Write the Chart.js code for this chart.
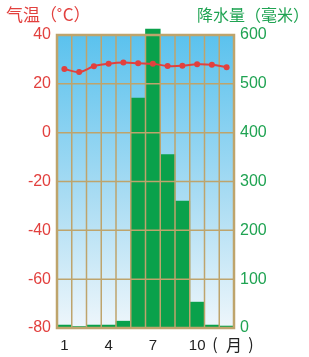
<!DOCTYPE html>
<html>
<head>
<meta charset="utf-8">
<script src="https://cdn.jsdelivr.net/npm/chart.js@4"></script>
<style>
  html, body { margin:0; padding:0; background:#fff; }
  #wrap { width:309px; height:357px; }
</style>
</head>
<body>
<div id="wrap"><canvas id="c"></canvas></div>
<script>
/* ---------- Data ---------- */
const months = ['1','2','3','4','5','6','7','8','9','10','11','12'];
const shownMonths = ['1','4','7','10'];
const precip = [6, 3, 6, 6, 14, 471, 612, 355, 260, 53, 6, 4];          // mm
const temp = [26.1, 24.8, 27.2, 28.2, 28.7, 28.4, 28.2, 27.3, 27.4, 28.0, 27.8, 26.8]; // °C
const tempTicks = [-80, 40, 20];   // min, max, step
const precipTicks = [0, 600, 100];

const RED = '#e2403e', GREEN = '#1fa352', GRID = '#bea46c';
const CN = '"Noto Sans CJK SC", sans-serif';
const NUM = '"Liberation Sans", Arial, sans-serif';

/* ---------- Plugins ---------- */
const background = {
  id:'background',
  beforeDatasetsDraw(chart){
    const { ctx, chartArea:a } = chart;
    const g = ctx.createLinearGradient(0, a.top, 0, a.bottom);
    g.addColorStop(0, '#5bc2ee');
    g.addColorStop(0.55, '#a9dcf3');
    g.addColorStop(1, '#eef6fb');
    ctx.save();
    ctx.fillStyle = g;
    ctx.fillRect(a.left, a.top, a.right - a.left, a.bottom - a.top);
    ctx.restore();
  }
};

// grid goes over the bars but under the temperature line
const overGrid = {
  id:'overGrid',
  afterDatasetDraw(chart, args){
    if(args.meta.type !== 'bar') return;
    const { ctx, chartArea:a, scales } = chart;
    const step = (a.right - a.left) / months.length;
    ctx.save();
    ctx.strokeStyle = GRID;
    ctx.lineWidth = 1.5;
    ctx.beginPath();
    for(let i = 1; i < months.length; i++){
      const x = a.left + i * step;
      ctx.moveTo(x, a.top); ctx.lineTo(x, a.bottom);
    }
    scales.yT.ticks.forEach(t => {
      const y = scales.yT.getPixelForValue(t.value);
      ctx.moveTo(a.left, y); ctx.lineTo(a.right, y);
    });
    ctx.stroke();
    ctx.lineWidth = 2.5;
    ctx.strokeRect(a.left, a.top, a.right - a.left, a.bottom - a.top);
    ctx.restore();
  }
};

const labels = {
  id:'labels',
  afterDraw(chart){
    const { ctx } = chart;
    ctx.save();
    ctx.textBaseline = 'middle';
    ctx.font = '17px ' + CN;
    ctx.fillStyle = RED;
    ctx.textAlign = 'left';
    ctx.fillText('气温（˚C）', 6, 15);
    ctx.font = '16px ' + CN;
    ctx.fillStyle = GREEN;
    ctx.textAlign = 'right';
    ctx.fillText('降水量（毫米）', 309, 15);
    // month unit, spaced out like the original
    ctx.fillStyle = '#222';
    ctx.textAlign = 'center';
    ctx.fillText('(', 215, 344);
    ctx.fillText('月', 234, 345);
    ctx.fillText(')', 251, 344);
    ctx.restore();
  }
};

/* ---------- Chart ---------- */
new Chart(document.getElementById('c'), {
  type:'bar',
  data:{
    labels: months,
    datasets:[
      { type:'line', label:'气温', data:temp, yAxisID:'yT', order:0,
        borderColor:RED, backgroundColor:RED, borderWidth:2,
        pointRadius:3, pointBorderWidth:0, tension:0.35 },
      { type:'bar', label:'降水量', data:precip, yAxisID:'yP', order:1,
        backgroundColor:'#0aa14b', barPercentage:1, categoryPercentage:1,
        borderWidth:0, clip:false }
    ]
  },
  options:{
    responsive:true, maintainAspectRatio:false, animation:false, devicePixelRatio:1,
    layout:{ padding:{ top:35, left:0, right:0, bottom:0 } },
    plugins:{ legend:{ display:false }, tooltip:{ enabled:false } },
    scales:{
      x:{
        grid:{ display:false, drawTicks:false }, border:{ display:false },
        ticks:{ autoSkip:false, maxRotation:0, padding:9, color:'#222',
          font:{ size:15, family:NUM },
          callback:(v, i) => shownMonths.includes(months[i]) ? months[i] : '' },
        afterFit:s => { s.height = 29; }
      },
      yT:{
        position:'left', min:tempTicks[0], max:tempTicks[1],
        grid:{ display:false, drawTicks:false }, border:{ display:false },
        ticks:{ stepSize:tempTicks[2], padding:6, color:RED, font:{ size:16, family:NUM } },
        afterFit:s => { s.width = 57; }
      },
      yP:{
        position:'right', min:precipTicks[0], max:precipTicks[1],
        grid:{ display:false, drawTicks:false }, border:{ display:false },
        ticks:{ stepSize:precipTicks[2], padding:6, color:GREEN, font:{ size:16, family:NUM } },
        afterFit:s => { s.width = 75; }
      }
    }
  },
  plugins:[background, overGrid, labels]
});
</script>
</body>
</html>
